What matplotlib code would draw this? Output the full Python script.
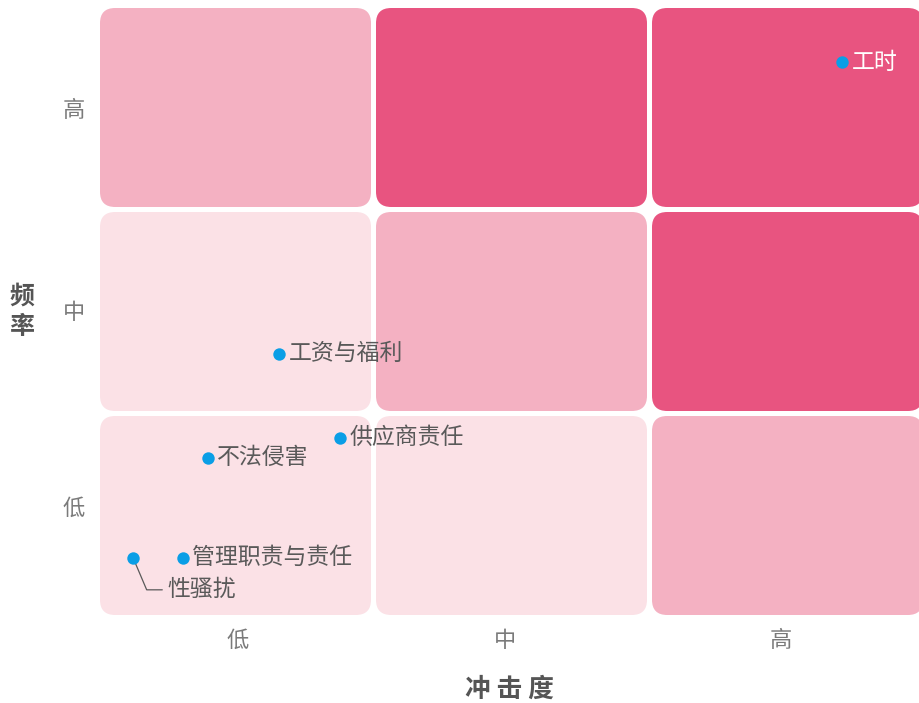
import numpy as np
import matplotlib.pyplot as plt
from matplotlib.patches import FancyBboxPatch

plt.rcParams['font.family'] = ['Noto Sans CJK SC', 'DejaVu Sans']

# risk matrix levels: rows bottom->top (frequency), cols left->right (impact)
levels = ['低', '中', '高']
cell_level = [[0, 0, 1],
              [0, 1, 2],
              [1, 2, 2]]
level_colors = ['#FBE1E6', '#F4B1C2', '#E85480']

# issues: impact (x), frequency (y)
names = ['工时', '工资与福利', '供应商责任', '不法侵害', '管理职责与责任', '性骚扰']
impact = [2.69, 0.65, 0.87, 0.39, 0.30, 0.12]
freq = [2.71, 1.28, 0.87, 0.77, 0.28, 0.28]

W, H = 919, 703
fig = plt.figure(figsize=(W / 100, H / 100), dpi=100)
ax = fig.add_axes([100 / W, (H - 615) / H, 819 / W, 615 / H])
ax.set_xlim(0, 819 / 276)
ax.set_ylim(0, 615 / 204)

cw, ch = 271 / 276, 199 / 204
aspect = 276 / 204
for r in range(3):
    for c in range(3):
        box = FancyBboxPatch((c, r), cw, ch,
                             boxstyle='round,pad=0,rounding_size=0.055',
                             mutation_aspect=aspect,
                             fc=level_colors[cell_level[r][c]], ec='none', zorder=1)
        ax.add_patch(box)

ax.scatter(impact, freq, s=80, color='#0A9EE6', zorder=3, linewidths=0)

for n, x, y in zip(names, impact, freq):
    if n == '性骚扰':
        ax.annotate(n, (x, y), xytext=(25, -23), textcoords='offset points',
                    ha='left', va='center', fontsize=16.5, color='#595959',
                    arrowprops=dict(arrowstyle='-', color='#595959', lw=0.9,
                                    shrinkA=2, shrinkB=0,
                                    connectionstyle='angle,angleA=0,angleB=113,rad=0'),
                    zorder=2)
    else:
        ax.annotate(n, (x, y), xytext=(6.5, 0), textcoords='offset points',
                    ha='left', va='center', fontsize=16.5,
                    color='white' if n == '工时' else '#595959', zorder=4)

ax.set_xticks([0.5, 1.467, 2.467])
ax.set_xticklabels(levels)
ax.set_yticks([0.534, 1.495, 2.485])
ax.set_yticklabels(levels)
ax.tick_params(length=0, labelsize=16, labelcolor='#7A7A7A')
ax.tick_params(axis='x', pad=10)
ax.tick_params(axis='y', pad=11)
for s in ax.spines.values():
    s.set_visible(False)

ax.set_xlabel('冲 击 度', fontsize=18.5, fontweight='bold', color='#555555', labelpad=17)
fig.text(22 / W, 1 - 312 / H, '频\n率', ha='center', va='center', fontsize=18,
         fontweight='bold', color='#555555', linespacing=1.35)

fig.savefig('out.png', dpi=100)
